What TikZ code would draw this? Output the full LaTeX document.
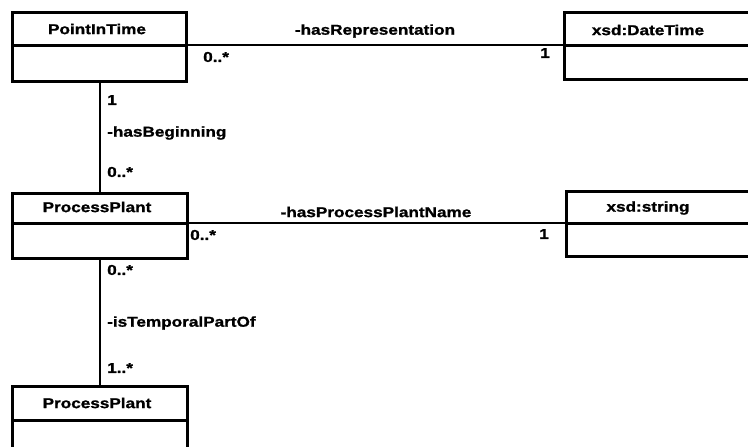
\documentclass[tikz,border=0pt]{standalone}
\usepackage{fontspec}
\setmainfont[FakeStretch=1.2,BoldFeatures={FakeBold=1.2}]{Liberation Sans}
\begin{document}
\begin{tikzpicture}[x=1pt,y=-1pt,
  box/.style={draw,line width=3pt,rectangle,inner sep=0pt,anchor=north west},
  divl/.style={line width=3pt},
  conn/.style={line width=2.6pt},
  lbl/.style={font=\bfseries\fontsize{14.3}{16}\selectfont,inner sep=0pt},
  ttl/.style={font=\bfseries\fontsize{14.3}{16}\selectfont,inner sep=0pt}]
\useasboundingbox (0,0) rectangle (748,447);
\clip (0,0) rectangle (748,447);
% boxes
\node[box,minimum width=174pt,minimum height=69pt] (pit) at (11,11) {};
\node[box,minimum width=210pt,minimum height=67pt] (dt) at (563,11) {};
\node[box,minimum width=175pt,minimum height=65pt] (pp1) at (11,192) {};
\node[box,minimum width=210pt,minimum height=65pt] (xs) at (565,190) {};
\node[box,minimum width=175pt,minimum height=80pt] (pp2) at (11,385) {};
% dividers
\coordinate (pitd) at (0,45);
\coordinate (ppd) at (0,223);
\coordinate (pp2d) at (0,420);
\draw[divl] (pit.west |- pitd) -- (pit.east |- pitd);
\draw[divl] (dt.west |- pitd) -- (dt.east |- pitd);
\draw[divl] (pp1.west |- ppd) -- (pp1.east |- ppd);
\draw[divl] (xs.west |- ppd) -- (xs.east |- ppd);
\draw[divl] (pp2.west |- pp2d) -- (pp2.east |- pp2d);
% titles
\node[ttl] (t1) at (97,29) {PointInTime};
\node[ttl] (t2) at (648,30) {xsd:DateTime};
\node[ttl] (t3) at (97,207) {ProcessPlant};
\node[ttl] (t4) at (648,208) {xsd:string};
\node[ttl] (t5) at (97,403) {ProcessPlant};
% connectors
\draw[conn] (pit.east |- pitd) -- (dt.west |- pitd);
\draw[conn] (pp1.east |- ppd) -- (xs.west |- ppd);
\draw[conn] (pit.south -| 100,0) -- (pp1.north -| 100,0);
\draw[conn] (pp1.south -| 100,0) -- (pp2.north -| 100,0);
% labels
\node[lbl] (l1) at (375,31) {-hasRepresentation};
\node[lbl,anchor=west] (l2) at (203,57) {0..*};
\node[lbl,anchor=east] (l3) at (550,53) {1};
\node[lbl,anchor=west] (l4) at (107,100) {1};
\node[lbl,anchor=west] (l5) at (107,133) {-hasBeginning};
\node[lbl,anchor=west] (l6) at (107,172) {0..*};
\node[lbl] (l7) at (376,212) {-hasProcessPlantName};
\node[lbl,anchor=west] (l8) at (190,235) {0..*};
\node[lbl,anchor=east] (l9) at (549,234) {1};
\node[lbl,anchor=west] (l10) at (107,270) {0..*};
\node[lbl,anchor=west] (l11) at (107,323) {-isTemporalPartOf};
\node[lbl,anchor=west] (l12) at (107,368) {1..*};
\end{tikzpicture}
\end{document}
